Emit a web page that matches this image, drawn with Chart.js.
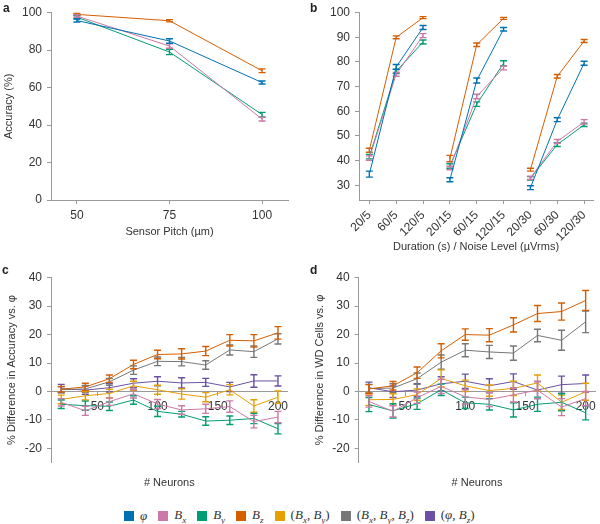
<!DOCTYPE html>
<html>
<head>
<meta charset="utf-8">
<script src="https://cdn.jsdelivr.net/npm/chart.js@4.4.1/dist/chart.umd.min.js"></script>
<style>
  body { margin: 0; background: #fff; }
  #wrap { position: relative; width: 600px; height: 524px; overflow: hidden; font-family: "Liberation Sans", Arial, sans-serif; }
  canvas { position: absolute; }
  .tag { position: absolute; font-weight: bold; font-size: 12px; color: #222; }
  #legend { position: absolute; left: 124px; top: 507px; display: flex; gap: 11px; font-family: "Liberation Serif", serif; font-size: 13px; color: #333; white-space: nowrap; }
  #legend .item { display: flex; align-items: center; }
  #legend .sw { width: 10px; height: 10px; margin-right: 6px; }
  #legend i sub { font-size: 9px; }
</style>
</head>
<body>
<div id="wrap">
  <canvas id="cA" width="300" height="250" style="left:0;top:0"></canvas>
  <canvas id="cB" width="300" height="260" style="left:300px;top:0"></canvas>
  <canvas id="cC" width="300" height="230" style="left:0;top:262px"></canvas>
  <canvas id="cD" width="300" height="230" style="left:300px;top:262px"></canvas>
  <div class="tag" style="left:3px;top:1px">a</div>
  <div class="tag" style="left:310px;top:1px">b</div>
  <div class="tag" style="left:2px;top:263px">c</div>
  <div class="tag" style="left:310px;top:263px">d</div>
  <div id="legend"></div>
</div>
<script>
const FONT = "Liberation Sans";
const tickColor = "#333";
const axisColor = "#999";

// series colours
const cPhi = "#0072B2", cBx = "#CC79A7", cBy = "#009E73", cBz = "#D55E00";
const cBxBy = "#E69F00", cBxByBz = "#777777", cPhiBz = "#6A51A3";

// legend
const legendNames = ["<i>φ</i>", "<i>B<sub>x</sub></i>", "<i>B<sub>y</sub></i>", "<i>B<sub>z</sub></i>",
  "(<i>B<sub>x</sub></i>, <i>B<sub>y</sub></i>)", "(<i>B<sub>x</sub></i>, <i>B<sub>y</sub></i>, <i>B<sub>z</sub></i>)",
  "(<i>φ</i>, <i>B<sub>z</sub></i>)"];
const legendColors = [cPhi, cBx, cBy, cBz, cBxBy, cBxByBz, cPhiBz];

// panel a: accuracy vs sensor pitch
const pitch = [50, 75, 100];
const aPhi = [95.8, 84.9, 62.7], aPhiErr = [0.8, 1.2, 0.8];
const aBx = [98.2, 82.2, 43.2], aBxErr = [0.7, 1.2, 1.0];
const aBy = [97.6, 79.0, 45.6], aByErr = [0.8, 1.4, 1.2];
const aBz = [99.1, 95.7, 69.0], aBzErr = [0.5, 0.6, 1.0];

// panel b: accuracy vs duration / noise
const condLabels = ["20/5", "60/5", "120/5", "20/15", "60/15", "120/15", "20/30", "60/30", "120/30"];
const bPhi = [34.5, 78.0, 94.0, 32.2, 72.5, 93.3, 29.0, 56.6, 79.5];
const bPhiErr = [1.2, 1.0, 0.8, 0.8, 1.0, 0.7, 0.8, 0.8, 0.8];
const bBx = [41.0, 75.0, 90.7, 37.0, 66.0, 77.6, 33.0, 47.8, 55.7];
const bBxErr = [0.9, 0.8, 0.8, 0.7, 0.9, 0.8, 0.7, 0.8, 0.9];
const bBy = [41.6, 76.2, 88.1, 37.8, 62.9, 79.5, 32.8, 46.5, 54.5];
const bByErr = [0.9, 0.9, 0.8, 0.9, 0.9, 1.0, 0.7, 0.8, 0.7];
const bBz = [44.2, 90.0, 98.0, 40.8, 87.0, 97.7, 36.3, 74.2, 88.5];
const bBzErr = [0.8, 0.6, 0.4, 1.3, 0.7, 0.4, 0.6, 0.7, 0.6];

// panels c, d: difference vs phi by number of neurons
const neurons = [20, 40, 60, 80, 100, 120, 140, 160, 180, 200];
const cBzV = [0.8, 1.6, 4.5, 9.5, 13.0, 13.2, 14.2, 18.0, 17.8, 20.6];
const cBzE = [1.0, 1.3, 1.3, 1.5, 1.5, 1.8, 1.6, 2.0, 2.2, 2.2];
const cAllV = [0.6, 0.9, 3.4, 7.5, 10.6, 10.5, 9.3, 14.6, 14.0, 18.5];
const cAllE = [1.0, 1.2, 1.2, 1.5, 1.5, 1.5, 1.5, 1.8, 2.0, 1.8];
const cPhiBzV = [1.0, 0.5, 1.3, 2.9, 3.6, 3.0, 3.2, 1.6, 3.7, 3.7];
const cPhiBzE = [1.5, 1.5, 1.5, 1.6, 1.6, 1.8, 1.4, 1.6, 2.2, 1.8];
const cBxByV = [-2.8, -1.5, -0.7, 2.0, 0.6, -0.9, -2.0, 0.6, -5.1, -2.0];
const cBxByE = [1.5, 1.5, 1.5, 1.6, 1.6, 1.8, 1.6, 1.8, 2.2, 2.2];
const cBxV = [-3.8, -6.8, -3.6, -0.8, -4.4, -6.5, -6.1, -5.3, -10.6, -9.0];
const cBxE = [1.3, 1.6, 1.3, 1.5, 1.6, 1.5, 1.6, 2.0, 2.2, 2.0];
const cByV = [-4.5, -5.0, -5.2, -3.0, -7.0, -8.0, -10.4, -10.1, -9.5, -13.1];
const cByE = [1.5, 1.6, 1.5, 1.5, 1.8, 1.0, 1.5, 1.5, 1.8, 1.8];

const dBzV = [0.9, 2.0, 6.6, 14.3, 20.0, 19.8, 23.4, 27.4, 28.1, 32.0];
const dBzE = [1.5, 1.5, 2.0, 2.5, 2.0, 2.3, 2.5, 2.8, 3.0, 3.5];
const dAllV = [1.0, 1.2, 4.5, 10.3, 14.5, 13.9, 13.5, 19.7, 18.0, 24.5];
const dAllE = [1.5, 1.5, 2.0, 2.5, 2.3, 2.3, 2.5, 2.2, 3.5, 3.8];
const dPhiBzV = [1.3, -0.1, 0.5, 2.7, 3.6, 2.0, 3.5, 0.5, 2.4, 2.8];
const dPhiBzE = [2.0, 2.0, 2.2, 2.5, 2.5, 2.5, 2.7, 3.0, 3.0, 3.0];
const dBxByV = [-2.9, -2.8, -1.1, 4.6, 2.0, 0.3, 1.1, 3.0, -3.8, -0.1];
const dBxByE = [2.0, 2.0, 2.0, 3.0, 2.0, 2.0, 2.5, 2.8, 2.5, 3.0];
const dBxV = [-3.5, -7.0, -2.2, 1.8, -1.9, -2.8, -1.2, 0.5, -5.5, -2.5];
const dBxE = [2.0, 2.0, 2.0, 2.5, 2.5, 2.5, 2.5, 3.0, 3.0, 2.5];
const dByV = [-4.6, -6.8, -4.3, 0.6, -4.0, -4.5, -6.5, -4.5, -3.8, -7.5];
const dByE = [2.5, 2.5, 2.0, 2.0, 2.0, 2.0, 2.5, 2.5, 3.0, 2.5];

// draws vertical error bars with caps, using each point's "e" field
const errorBars = {
  id: "errorBars",
  afterDatasetDraw(chart, args) {
    const ds = chart.data.datasets[args.index];
    const ys = chart.scales[args.meta.yAxisID];
    const ctx = chart.ctx;
    ctx.save();
    ctx.strokeStyle = ds.borderColor;
    ctx.lineWidth = 1.4;
    args.meta.data.forEach((pt, i) => {
      const d = ds.data[i];
      if (d.y == null || d.e == null) return;
      const top = ys.getPixelForValue(d.y + d.e);
      const bot = ys.getPixelForValue(d.y - d.e);
      ctx.beginPath();
      ctx.moveTo(pt.x, top); ctx.lineTo(pt.x, bot);
      ctx.moveTo(pt.x - 3.5, top); ctx.lineTo(pt.x + 3.5, top);
      ctx.moveTo(pt.x - 3.5, bot); ctx.lineTo(pt.x + 3.5, bot);
      ctx.stroke();
    });
    ctx.restore();
  }
};

function pts(xs, ys, es) {
  return xs.map((x, i) => ({ x: x, y: ys[i], e: es[i] }));
}

// panel b: split the 9 conditions into 3 unconnected groups
function groupedPts(ys, es) {
  const out = [];
  ys.forEach((v, i) => {
    out.push({ x: i + 1, y: v, e: es[i] });
    if (i === 2 || i === 5) out.push({ x: i + 1.5, y: null });
  });
  return out;
}

function line(color, data) {
  return { data: data, borderColor: color, backgroundColor: color, borderWidth: 1, pointRadius: 0, tension: 0, spanGaps: false };
}

const tickFont = { family: FONT, size: 12 };
const titleFont = { family: FONT, size: 11 };

function yAxis(min, max, ticks, width, title, titlePad) {
  return {
    type: "linear", min: min, max: max,
    afterBuildTicks: s => { s.ticks = ticks.map(v => ({ value: v })); },
    afterFit: s => { s.width = width; },
    grid: { drawOnChartArea: false, tickLength: 4, color: axisColor },
    border: { display: true, color: axisColor },
    ticks: { color: tickColor, font: tickFont, padding: 5 },
    title: { display: !!title, text: title || "", color: tickColor, font: titleFont, padding: { top: titlePad || 0, bottom: 0 } }
  };
}

function xAxis(min, max, ticks, height, title, titlePad, labels) {
  return {
    type: "linear", min: min, max: max,
    afterBuildTicks: s => { s.ticks = ticks.map(v => ({ value: v })); },
    afterFit: s => { s.height = height; },
    grid: { drawOnChartArea: false, tickLength: 4, color: axisColor },
    border: { display: true, color: axisColor },
    ticks: {
      color: tickColor, font: tickFont, padding: 4, autoSkip: false,
      minRotation: labels ? 45 : 0, maxRotation: labels ? 45 : 0,
      callback: labels ? (v => labels[Math.round(v) - 1]) : (v => v)
    },
    title: { display: true, text: title, color: tickColor, font: titleFont, padding: { top: 0, bottom: titlePad } }
  };
}

function baseOptions(padding, scales) {
  return {
    responsive: false, animation: false, devicePixelRatio: 1,
    layout: { padding: padding },
    plugins: { legend: { display: false }, tooltip: { enabled: false } },
    scales: scales
  };
}

// panel a
new Chart(document.getElementById("cA"), {
  type: "line",
  data: { datasets: [
    line(cPhi, pts(pitch, aPhi, aPhiErr)),
    line(cBx, pts(pitch, aBx, aBxErr)),
    line(cBy, pts(pitch, aBy, aByErr)),
    line(cBz, pts(pitch, aBz, aBzErr))
  ] },
  options: baseOptions({ top: 12.7, right: 12, left: 0, bottom: 0 }, {
    x: xAxis(43, 107, [50, 75, 100], 50, "Sensor Pitch (µm)", 11),
    y: yAxis(0, 100, [0, 20, 40, 60, 80, 100], 51, "Accuracy (%)", 2)
  }),
  plugins: [errorBars]
});

// panel b
new Chart(document.getElementById("cB"), {
  type: "line",
  data: { datasets: [
    line(cPhi, groupedPts(bPhi, bPhiErr)),
    line(cBx, groupedPts(bBx, bBxErr)),
    line(cBy, groupedPts(bBy, bByErr)),
    line(cBz, groupedPts(bBz, bBzErr))
  ] },
  options: baseOptions({ top: 12.7, right: 7, left: 0, bottom: 0 }, {
    x: xAxis(0.615, 9.33, [1, 2, 3, 4, 5, 6, 7, 8, 9], 60, "Duration (s) / Noise Level (µVrms)", 6, condLabels),
    y: yAxis(24, 100, [30, 40, 50, 60, 70, 80, 90, 100], 59, "", 0)
  }),
  plugins: [errorBars]
});

// panels c and d share the layout
function diffChart(id, rightPad, yWidth, yTitle, yTitlePad, sets) {
  const scales = {
    x: {
      type: "linear", min: 11.5, max: 208, position: { y: 0 },
      afterBuildTicks: s => { s.ticks = [50, 100, 150, 200].map(v => ({ value: v })); },
      grid: { drawOnChartArea: false, tickLength: 4, color: axisColor },
      border: { display: true, color: axisColor },
      ticks: { color: tickColor, font: tickFont, padding: 4, maxRotation: 0, autoSkip: false }
    },
    x2: {
      type: "linear", min: 11.5, max: 208, position: "bottom",
      afterFit: s => { s.height = 29.7; },
      grid: { display: false }, border: { display: false },
      ticks: { display: false },
      title: { display: true, text: "# Neurons", color: tickColor, font: titleFont, padding: { top: 0, bottom: 2.7 } }
    },
    y: yAxis(-24.9, 40, [-20, -10, 0, 10, 20, 30, 40], yWidth, yTitle, yTitlePad)
  };
  new Chart(document.getElementById(id), {
    type: "line",
    data: { datasets: sets },
    options: baseOptions({ top: 15.7, right: rightPad, left: 0, bottom: 0 }, scales),
    plugins: [errorBars]
  });
}

diffChart("cC", 12.4, 51, "% Difference in Accuracy vs. φ", 5, [
  line(cBx, pts(neurons, cBxV, cBxE)),
  line(cBy, pts(neurons, cByV, cByE)),
  line(cBz, pts(neurons, cBzV, cBzE)),
  line(cBxBy, pts(neurons, cBxByV, cBxByE)),
  line(cBxByBz, pts(neurons, cAllV, cAllE)),
  line(cPhiBz, pts(neurons, cPhiBzV, cPhiBzE))
]);

diffChart("cD", 4.7, 58.7, "% Difference in WD Cells vs. φ", 13, [
  line(cBx, pts(neurons, dBxV, dBxE)),
  line(cBy, pts(neurons, dByV, dByE)),
  line(cBz, pts(neurons, dBzV, dBzE)),
  line(cBxBy, pts(neurons, dBxByV, dBxByE)),
  line(cBxByBz, pts(neurons, dAllV, dAllE)),
  line(cPhiBz, pts(neurons, dPhiBzV, dPhiBzE))
]);

// legend
const leg = document.getElementById("legend");
legendNames.forEach((name, i) => {
  const it = document.createElement("div");
  it.className = "item";
  it.innerHTML = `<span class="sw" style="background:${legendColors[i]}"></span><span>${name}</span>`;
  leg.appendChild(it);
});
</script>
</body>
</html>
